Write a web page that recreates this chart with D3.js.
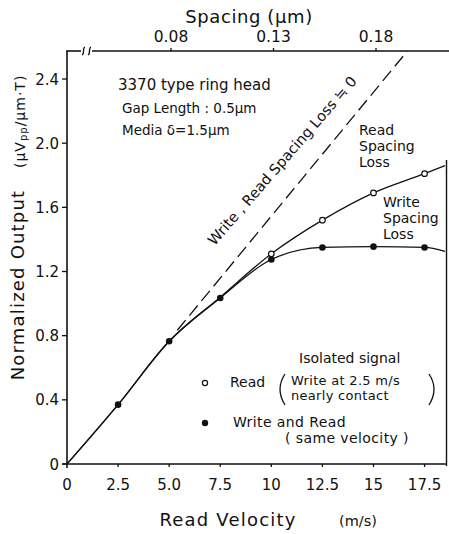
<!DOCTYPE html>
<html><head><meta charset="utf-8">
<script src="https://cdn.jsdelivr.net/npm/d3@7"></script>
<style>
body{margin:0;background:#fff;}
text{font-family:"DejaVu Sans",sans-serif;fill:#111;}
</style></head>
<body>
<svg id="c" width="449" height="534"></svg>
<script>
// ---- data ----
const velocityTicks = [0, 2.5, 5.0, 7.5, 10, 12.5, 15, 17.5];
const velocityTickLabels = ["0", "2.5", "5.0", "7.5", "10", "12.5", "15", "17.5"];
const outputTicks = [0, 0.4, 0.8, 1.2, 1.6, 2.0, 2.4];
const outputTickLabels = ["0", "0.4", "0.8", "1.2", "1.6", "2.0", "2.4"];
const spacingTicks = [0.08, 0.13, 0.18];
const spacingTickLabels = ["0.08", "0.13", "0.18"];

// Read (open circles) curve
const readCurveV = [0, 2.5, 5.0, 7.5, 10, 12.5, 15, 17.5, 18.5];
const readCurveOut = [0, 0.37, 0.765, 1.04, 1.31, 1.52, 1.69, 1.81, 1.86];
const readMarkV = [10, 12.5, 15, 17.5];
const readMarkOut = [1.31, 1.52, 1.69, 1.81];
// Write and Read (filled) curve
const writeCurveV = [0, 2.5, 5.0, 7.5, 10, 12.5, 15, 17.5, 18.5];
const writeCurveOut = [0, 0.37, 0.765, 1.035, 1.275, 1.35, 1.355, 1.35, 1.325];
const writeMarkV = [2.5, 5.0, 7.5, 10, 12.5, 15, 17.5];
const writeMarkOut = [0.37, 0.765, 1.035, 1.275, 1.35, 1.355, 1.35];
// no-spacing-loss reference (dashed)
const idealV = [5.4, 16.65];
const idealOut = [0.834, 2.573];

const svg = d3.select("#c");
const x = d3.scaleLinear().domain([0, 18.5]).range([67, 445]);
const y = d3.scaleLinear().domain([0, 2.4]).range([464, 79]);
const xs = d3.scaleLinear().domain([0.08, 0.18]).range([171, 376]);
const topY = 51;

const ink = "#111";

// axes frame
svg.append("line").attr("x1", 67).attr("x2", 67).attr("y1", topY).attr("y2", 468).attr("stroke", ink).attr("stroke-width", 1.6);
svg.append("line").attr("x1", 62).attr("x2", 446).attr("y1", 464).attr("y2", 464).attr("stroke", ink).attr("stroke-width", 1.6);
svg.append("line").attr("x1", 446.5).attr("x2", 446.5).attr("y1", 160).attr("y2", 466).attr("stroke", ink).attr("stroke-width", 1.4);
// top axis with break
svg.append("line").attr("x1", 66.2).attr("x2", 81).attr("y1", topY).attr("y2", topY).attr("stroke", ink).attr("stroke-width", 1.6);
svg.append("line").attr("x1", 92).attr("x2", 449).attr("y1", topY).attr("y2", topY).attr("stroke", ink).attr("stroke-width", 1.6);
[82, 88].forEach(bx => {
  svg.append("path")
    .attr("d", `M${bx},${topY+4} C${bx+3},${topY+3} ${bx},${topY-3} ${bx+3},${topY-4}`)
    .attr("fill", "none").attr("stroke", ink).attr("stroke-width", 1.3);
});

// left axis ticks & labels
const gy = svg.append("g");
outputTicks.forEach((t, i) => {
  gy.append("line").attr("x1", 62).attr("x2", 67).attr("y1", y(t)).attr("y2", y(t)).attr("stroke", ink).attr("stroke-width", 1.3);
  gy.append("text").attr("x", 59).attr("y", y(t) + 5.5).attr("text-anchor", "end")
    .attr("font-size", 15).text(outputTickLabels[i]);
});
// bottom axis ticks & labels
velocityTicks.forEach((t, i) => {
  if (t > 0) svg.append("line").attr("x1", x(t)).attr("x2", x(t)).attr("y1", 464).attr("y2", 467).attr("stroke", ink).attr("stroke-width", 1.3);
  svg.append("text").attr("x", x(t)).attr("y", 490).attr("text-anchor", "middle")
    .attr("font-size", 15).text(velocityTickLabels[i]);
});
// top axis ticks & labels
spacingTicks.forEach((t, i) => {
  svg.append("line").attr("x1", xs(t)).attr("x2", xs(t)).attr("y1", topY - 3).attr("y2", topY).attr("stroke", ink).attr("stroke-width", 1.3);
  svg.append("text").attr("x", xs(t)).attr("y", 42).attr("text-anchor", "middle")
    .attr("font-size", 15.5).text(spacingTickLabels[i]);
});

// axis titles
svg.append("text").attr("x", 249).attr("y", 23).attr("text-anchor", "middle")
  .attr("font-size", 18).attr("letter-spacing", 0.6).text("Spacing  (μm)");
svg.append("text").attr("x", 228).attr("y", 526).attr("text-anchor", "middle")
  .attr("font-size", 18).attr("letter-spacing", 1.2).text("Read Velocity");
svg.append("text").attr("x", 358).attr("y", 526).attr("text-anchor", "middle")
  .attr("font-size", 14.5).text("(m/s)");
svg.append("text").attr("transform", "translate(24,285) rotate(-90)").attr("text-anchor", "middle")
  .attr("font-size", 18).attr("letter-spacing", 1.2).text("Normalized  Output");
const ut = svg.append("text").attr("transform", "translate(25,168) rotate(-90)").attr("text-anchor", "start")
  .attr("font-size", 14).attr("letter-spacing", 1);
ut.append("tspan").text("(μV");
ut.append("tspan").attr("font-size", 10).attr("dy", 2).text("pp");
ut.append("tspan").attr("dy", -2).text("/μm·T)");

// dashed ideal line
const ln = d3.line().x(d => x(d[0])).y(d => y(d[1]));
svg.append("path").datum(idealV.map((v, i) => [v, idealOut[i]]))
  .attr("d", ln).attr("fill", "none").attr("stroke", ink).attr("stroke-width", 1.3)
  .attr("stroke-dasharray", "13,6");

// curves
const cl = d3.line().x(d => x(d[0])).y(d => y(d[1])).curve(d3.curveMonotoneX);
svg.append("path").datum(readCurveV.map((v, i) => [v, readCurveOut[i]]))
  .attr("d", cl).attr("fill", "none").attr("stroke", ink).attr("stroke-width", 1.3);
svg.append("path").datum(writeCurveV.map((v, i) => [v, writeCurveOut[i]]))
  .attr("d", cl).attr("fill", "none").attr("stroke", ink).attr("stroke-width", 1.3);

// markers
writeMarkV.forEach((v, i) => {
  svg.append("circle").attr("cx", x(v)).attr("cy", y(writeMarkOut[i])).attr("r", 3.3).attr("fill", ink);
});
readMarkV.forEach((v, i) => {
  svg.append("circle").attr("cx", x(v)).attr("cy", y(readMarkOut[i])).attr("r", 2.8)
    .attr("fill", "#fff").attr("stroke", ink).attr("stroke-width", 1.2);
});

// annotations
svg.append("text").attr("x", 118).attr("y", 90).attr("font-size", 15).text("3370 type ring head");
svg.append("text").attr("x", 122).attr("y", 113).attr("font-size", 13.5).text("Gap Length : 0.5μm");
svg.append("text").attr("x", 122).attr("y", 135).attr("font-size", 13.5).text("Media δ=1.5μm");

svg.append("text").attr("transform", "translate(286,164) rotate(-49)").attr("text-anchor", "middle")
  .attr("font-size", 14.5).text("Write , Read Spacing Loss ≒ 0");

const rs = svg.append("text").attr("font-size", 14);
["Read", "Spacing", "Loss"].forEach((s, i) => rs.append("tspan").attr("x", 359).attr("y", 135 + i * 16).text(s));
const ws = svg.append("text").attr("font-size", 14);
["Write", "Spacing", "Loss"].forEach((s, i) => ws.append("tspan").attr("x", 383).attr("y", 207 + i * 16).text(s));

// legend
svg.append("text").attr("x", 299).attr("y", 363).attr("font-size", 14).text("Isolated signal");
svg.append("circle").attr("cx", 205).attr("cy", 383).attr("r", 2.6).attr("fill", "#fff").attr("stroke", ink).attr("stroke-width", 1.2);
svg.append("text").attr("x", 230).attr("y", 387).attr("font-size", 14).text("Read");
svg.append("path").attr("d", "M285,374 Q275,389 285,405").attr("fill", "none").attr("stroke", ink).attr("stroke-width", 1.3);
svg.append("text").attr("x", 291).attr("y", 385).attr("font-size", 13).attr("letter-spacing", 0.3).text("Write at 2.5 m/s");
svg.append("text").attr("x", 291).attr("y", 400).attr("font-size", 13).attr("letter-spacing", 0.3).text("nearly contact");
svg.append("path").attr("d", "M429,374 Q439,389 429,405").attr("fill", "none").attr("stroke", ink).attr("stroke-width", 1.3);
svg.append("circle").attr("cx", 205).attr("cy", 423).attr("r", 3.2).attr("fill", ink);
svg.append("text").attr("x", 233).attr("y", 427).attr("font-size", 14).attr("letter-spacing", 0.4).text("Write and Read");
svg.append("text").attr("x", 285).attr("y", 443).attr("font-size", 14).attr("letter-spacing", 0.4).text("( same velocity )");
</script>
</body></html>
